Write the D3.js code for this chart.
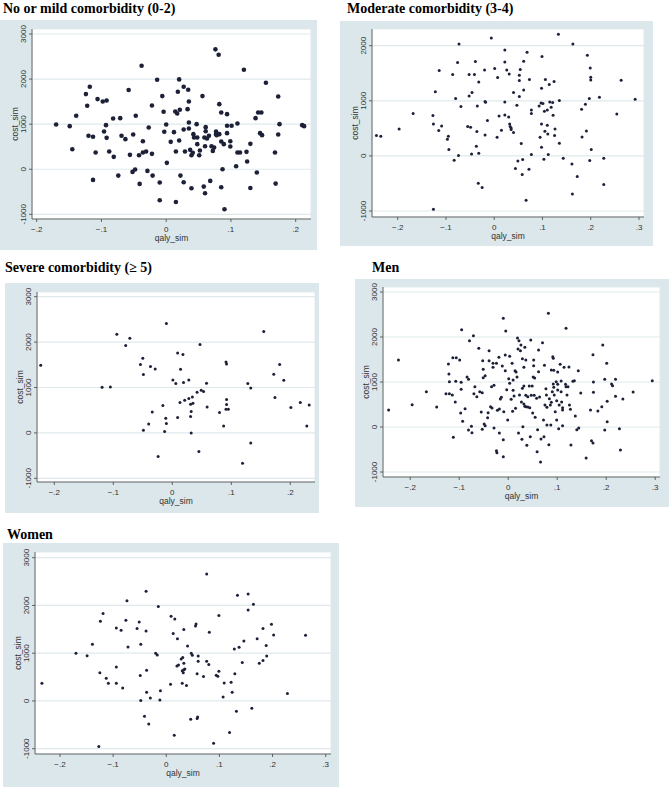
<!DOCTYPE html>
<html>
<head>
<meta charset="utf-8">
<script src="https://cdn.jsdelivr.net/npm/d3@7"></script>
<style>
  body { margin: 0; background: #fff; }
  svg text { font-family: "Liberation Sans", Arial, sans-serif; }
  .title { font-family: "Liberation Serif", "Times New Roman", serif !important; font-weight: bold; font-size: 14px; fill: #000; }
  .tick { font-size: 8px; fill: #333; }
  .axtitle { font-size: 8.5px; fill: #333; }
</style>
</head>
<body>
<svg id="chart" width="669" height="787"></svg>
<script>
// tick values
var yTicks = [-1000, 0, 1000, 2000, 3000];
var xTicks = [-0.2, -0.1, 0, 0.1, 0.2, 0.3];

// No or mild comorbidity (0-2)
var mildQaly = [-0.170,-0.149,-0.145,-0.139,-0.124,-0.122,-0.118,-0.120,-0.113,-0.113,-0.109,-0.106,-0.098,-0.092,-0.093,-0.096,-0.092,-0.088,-0.082,-0.081,
  -0.074,-0.071,-0.069,-0.063,-0.058,-0.056,-0.052,-0.051,-0.048,-0.047,-0.041,-0.042,-0.038,-0.036,-0.036,-0.031,-0.029,-0.027,-0.022,-0.022,
  -0.021,-0.014,-0.010,-0.010,-0.006,-0.004,-0.003,0.000,0.001,0.007,0.012,0.014,0.015,0.015,0.017,0.018,0.020,0.021,0.020,0.022,
  0.027,0.027,0.027,0.029,0.034,0.033,0.035,0.035,0.035,0.037,0.039,0.039,0.041,0.042,0.043,0.047,0.048,0.048,0.051,0.052,
  0.056,0.058,0.059,0.060,0.060,0.061,0.061,0.063,0.066,0.068,0.070,0.072,0.074,0.076,0.077,0.077,0.078,0.081,0.082,0.082,
  0.085,0.085,0.085,0.087,0.089,0.090,0.094,0.094,0.094,0.099,0.099,0.101,0.108,0.110,0.110,0.114,0.120,0.124,0.125,0.130,
  0.130,0.138,0.140,0.142,0.145,0.147,0.148,0.154,0.168,0.169,0.173,0.173,0.175,0.210,0.213];
var mildCost = [993,956,444,1185,1667,1407,1830,741,719,-237,370,1556,1504,1526,978,837,696,393,1126,274,
  -141,1133,741,667,1756,319,-59,770,-7,1185,-326,311,2296,622,370,393,-37,926,1415,341,
  -141,1985,-296,-689,1622,1274,830,993,141,607,822,1281,393,-726,1237,1719,1993,1319,637,-141,
  -289,881,1830,393,1763,1333,1504,904,1037,430,311,-422,363,778,704,1000,704,556,311,415,
  1622,-385,704,-533,511,933,844,681,741,-259,511,407,481,2659,778,837,756,2541,1444,778,
  1259,615,-400,0,556,-889,1222,963,800,622,504,963,67,1015,370,370,2207,385,170,563,
  -415,1133,-74,1259,800,1259,756,1919,370,-319,1615,770,1000,978,956];

// Moderate comorbidity (3-4)
var modQaly = [-0.244,-0.235,-0.197,-0.168,-0.127,-0.126,-0.126,-0.122,-0.115,-0.114,-0.109,-0.097,-0.095,-0.094,-0.083,-0.080,-0.086,-0.076,-0.074,-0.073,
  -0.069,-0.055,-0.052,-0.052,-0.049,-0.047,-0.046,-0.041,-0.039,-0.037,-0.036,-0.035,-0.033,-0.032,-0.032,-0.025,-0.020,-0.019,-0.018,-0.019,
  -0.014,-0.006,0.001,0.006,0.007,0.010,0.015,0.022,0.022,0.022,0.022,0.026,0.030,0.031,0.032,0.033,0.035,0.035,0.040,0.040,
  0.047,0.044,0.049,0.052,0.052,0.052,0.054,0.056,0.058,0.059,0.061,0.061,0.066,0.068,0.072,0.073,0.077,0.077,0.077,0.093,
  0.095,0.097,0.098,0.098,0.098,0.099,0.101,0.103,0.104,0.105,0.106,0.110,0.110,0.111,0.112,0.114,0.115,0.118,0.121,0.122,
  0.124,0.125,0.126,0.133,0.135,0.135,0.143,0.161,0.162,0.163,0.172,0.181,0.182,0.189,0.191,0.193,0.197,0.198,0.199,0.200,
  0.200,0.201,0.218,0.227,0.227,0.254,0.263,0.292];
var modCost = [369,357,490,768,732,581,-968,1162,460,1549,544,302,357,115,-79,1041,1476,1694,6,2033,
  895,532,1476,1089,520,36,1149,1476,1712,175,442,907,-496,48,1343,-575,1561,986,974,381,
  641,2142,1585,339,1422,726,466,1924,1706,980,744,1561,708,1488,581,532,508,478,424,1149,
  920,-230,-91,1077,1367,1464,1567,224,-339,-67,1198,1718,-805,1881,-242,1385,24,835,768,907,
  339,962,581,157,1228,1803,950,-60,811,448,1385,835,557,399,24,1295,980,883,968,738,
  1349,369,490,2208,230,1004,-42,-145,-690,2033,-375,847,345,938,454,1827,1041,-85,1597,1428,
  1379,115,1065,-42,-520,762,1373,1028];

// Severe comorbidity (>= 5)
var sevQaly = [-0.223,-0.119,-0.105,-0.094,-0.079,-0.072,-0.054,-0.050,-0.049,-0.049,-0.040,-0.037,-0.034,-0.029,-0.024,-0.016,-0.013,-0.011,-0.010,-0.010,
  0.001,0.006,0.009,0.009,0.013,0.014,0.018,0.019,0.021,0.028,0.028,0.031,0.031,0.032,0.032,0.034,0.035,0.042,0.045,0.047,
  0.049,0.053,0.058,0.059,0.080,0.087,0.091,0.091,0.092,0.092,0.092,0.095,0.119,0.128,0.133,0.133,0.155,0.172,0.174,0.182,
  0.189,0.201,0.217,0.228,0.232];
var sevCost = [1490,1006,1013,2172,1923,2084,1505,1644,1284,59,198,1461,462,1409,-521,602,29,323,206,2407,
  1167,1086,1761,338,668,1402,1725,1108,719,756,1167,360,631,470,0,793,653,895,-411,1945,
  939,910,1094,572,448,154,521,1563,1519,624,734,521,-668,1086,991,-220,2231,1292,778,1505,
  1160,558,668,154,616];

// Men
var menQaly = [-0.244,-0.224,-0.196,-0.167,-0.146,-0.122,-0.121,-0.120,-0.127,-0.120,-0.114,-0.113,-0.106,-0.107,-0.108,-0.112,-0.099,-0.096,-0.096,-0.095,
  -0.097,-0.093,-0.088,-0.084,-0.081,-0.081,-0.079,-0.075,-0.074,-0.071,-0.070,-0.068,-0.064,-0.060,-0.058,-0.055,-0.052,-0.051,-0.051,-0.053,
  -0.053,-0.049,-0.047,-0.047,-0.042,-0.041,-0.039,-0.039,-0.036,-0.034,-0.033,-0.031,-0.031,-0.029,-0.029,-0.024,-0.024,-0.023,-0.022,-0.019,
  -0.018,-0.018,-0.016,-0.014,-0.012,-0.010,-0.010,-0.010,-0.009,-0.006,-0.005,-0.006,-0.003,-0.001,0.001,0.003,0.003,0.006,0.008,0.009,
  0.010,0.010,0.012,0.014,0.015,0.016,0.018,0.019,0.020,0.021,0.022,0.023,0.025,0.026,0.027,0.028,0.029,0.029,0.030,0.032,
  0.032,0.032,0.034,0.034,0.036,0.036,0.036,0.038,0.040,0.040,0.043,0.044,0.045,0.046,0.047,0.049,0.050,0.051,0.052,0.052,
  0.054,0.053,0.055,0.058,0.059,0.060,0.062,0.062,0.064,0.066,0.067,0.070,0.073,0.072,0.074,0.075,0.077,0.078,0.079,0.079,
  0.082,0.083,0.084,0.086,0.087,0.088,0.088,0.090,0.091,0.092,0.092,0.093,0.093,0.094,0.096,0.098,0.099,0.099,0.101,0.101,
  0.101,0.103,0.104,0.106,0.108,0.108,0.109,0.111,0.111,0.111,0.114,0.117,0.118,0.118,0.120,0.122,0.124,0.125,0.127,0.128,
  0.132,0.135,0.137,0.140,0.144,0.143,0.148,0.168,0.170,0.173,0.173,0.174,0.174,0.159,0.183,0.191,0.193,0.197,0.197,0.201,
  0.202,0.202,0.211,0.213,0.219,0.219,0.227,0.229,0.234,0.255,0.294];
var menCost = [378,1489,496,785,444,1400,1178,1007,741,741,711,1541,1541,1015,556,-230,1489,837,993,2163,
  311,126,407,1111,1059,-67,1919,15,-126,2030,741,896,674,1748,785,333,1474,1281,1096,763,
  -52,67,30,1141,207,319,1696,1474,452,896,422,1326,1415,926,-22,1415,-526,-570,370,1548,
  400,-133,622,659,1356,-281,-659,2415,341,1252,2133,1600,830,156,1074,1570,970,615,1415,348,
  815,1044,689,1252,415,1222,1111,1978,1733,-133,1919,711,1696,1822,556,-274,859,1519,7,1326,
  911,511,1770,459,452,1489,704,-407,444,674,911,430,-215,1933,704,911,311,1111,1489,1363,
  1089,704,215,637,-548,-59,1711,1230,667,-778,-267,1874,-215,156,1370,489,852,711,44,437,
  2526,-393,630,489,44,1267,548,785,1563,1526,956,1259,881,711,341,1007,156,585,948,1222,
  822,-37,489,1393,1022,785,556,30,430,378,1326,948,2193,896,711,896,1333,489,393,-400,
  1015,1030,244,-59,-22,1252,756,378,-304,-356,1607,1000,770,-689,356,452,1822,1059,-67,1415,
  119,570,956,919,681,1059,-37,-511,622,778,1030];

// Women
var womenQaly = [-0.234,-0.170,-0.149,-0.139,-0.127,-0.125,-0.124,-0.119,-0.113,-0.109,-0.094,-0.094,-0.094,-0.085,-0.082,-0.076,-0.074,-0.072,-0.055,-0.051,
  -0.049,-0.048,-0.048,-0.041,-0.038,-0.038,-0.037,-0.037,-0.033,-0.030,-0.020,-0.017,-0.015,-0.011,-0.012,0.009,0.008,0.013,0.015,0.016,
  0.021,0.020,0.023,0.028,0.030,0.030,0.031,0.033,0.033,0.032,0.033,0.035,0.038,0.040,0.046,0.047,0.049,0.055,0.056,0.058,
  0.059,0.058,0.060,0.060,0.070,0.076,0.076,0.080,0.081,0.089,0.094,0.097,0.099,0.099,0.107,0.109,0.119,0.122,0.124,0.128,
  0.129,0.132,0.134,0.137,0.143,0.146,0.154,0.154,0.161,0.164,0.171,0.175,0.182,0.182,0.188,0.189,0.198,0.202,0.228,0.262];
var womenCost = [370,998,949,1187,-956,593,1668,1829,475,370,1529,712,370,1480,272,1689,2101,1131,1515,1654,
  531,7,1187,-321,2297,1466,642,182,-482,63,998,963,1976,216,21,1773,349,1410,-719,1717,
  1305,733,754,880,635,370,908,1494,789,593,656,670,321,1152,-384,998,956,1571,1613,-370,
  -335,572,942,831,510,2660,831,761,1438,-887,538,517,1787,621,84,377,-663,391,182,1089,
  572,-216,2213,1124,803,1257,2241,1906,-154,2024,1305,789,845,1515,1159,942,1606,1382,154,1375];

// panel layout: outer box, plot box, pixel positions of the first/last tick
var panels = [
  { title: "No or mild comorbidity (0-2)", qaly: mildQaly, cost: mildCost, r: 2.3,
    tx: 3, ty: 13, bg: [0, 20, 317, 250], plot: [32, 29, 311, 219],
    xt: [-0.2, 0.2], xr: [36.7, 295.7], yt: [-1000, 3000], yr: [214.3, 34] },
  { title: "Moderate comorbidity (3-4)", qaly: modQaly, cost: modCost, r: 1.5,
    tx: 347, ty: 13, bg: [340, 21, 653, 246], plot: [372, 29, 644, 217],
    xt: [-0.2, 0.3], xr: [397.7, 639], yt: [-1000, 2000], yr: [211, 45.7] },
  { title: "Severe comorbidity (\u2265 5)", qaly: sevQaly, cost: sevCost, r: 1.5,
    tx: 5, ty: 272, bg: [5, 283, 319, 513], plot: [37, 292, 315, 482],
    xt: [-0.2, 0.2], xr: [54.3, 290.3], yt: [-1000, 3000], yr: [478.3, 296.7] },
  { title: "Men", qaly: menQaly, cost: menCost, r: 1.5,
    tx: 372, ty: 272, bg: [355, 279, 669, 507], plot: [383, 287, 660, 477],
    xt: [-0.2, 0.3], xr: [410.2, 655.2], yt: [-1000, 3000], yr: [472, 292] },
  { title: "Women", qaly: womenQaly, cost: womenCost, r: 1.5,
    tx: 7, ty: 539, bg: [3, 543, 339, 787], plot: [35, 552, 331, 754],
    xt: [-0.2, 0.3], xr: [60, 325.7], yt: [-1000, 3000], yr: [748.7, 557.7] }
];

var bgColor = "#dbe7ea";
var gridColor = "#dfe9ec";
var axisColor = "#444";
var dotColor = "#1c2138";

function fmtX(t) {
  if (Math.abs(t) < 1e-9) return "0";
  return d3.format(".1f")(t).replace("0.", ".");
}

var svg = d3.select("#chart");

panels.forEach(function(p) {
  var g = svg.append("g");
  var x = d3.scaleLinear().domain(p.xt).range(p.xr);
  var y = d3.scaleLinear().domain(p.yt).range(p.yr);
  var xs = xTicks.filter(function(t) { return t >= p.xt[0] - 1e-9 && t <= p.xt[1] + 1e-9; });
  var ys = yTicks.filter(function(t) { return t >= p.yt[0] && t <= p.yt[1]; });
  var x0 = p.plot[0], y0 = p.plot[1], x1 = p.plot[2], y1 = p.plot[3];

  g.append("text").attr("class", "title").attr("x", p.tx).attr("y", p.ty).text(p.title);

  g.append("rect").attr("x", p.bg[0]).attr("y", p.bg[1])
    .attr("width", p.bg[2] - p.bg[0]).attr("height", p.bg[3] - p.bg[1]).attr("fill", bgColor);
  g.append("rect").attr("x", x0).attr("y", y0).attr("width", x1 - x0).attr("height", y1 - y0)
    .attr("fill", "#fff").attr("stroke", gridColor).attr("stroke-width", 1);

  // gridlines
  g.selectAll(".grid").data(ys).enter().append("line")
    .attr("x1", x0).attr("x2", x1)
    .attr("y1", function(d) { return y(d); }).attr("y2", function(d) { return y(d); })
    .attr("stroke", gridColor).attr("stroke-width", 1.2);

  // axes
  g.append("line").attr("x1", x0).attr("x2", x0).attr("y1", y0).attr("y2", y1)
    .attr("stroke", axisColor).attr("stroke-width", 0.8);
  g.append("line").attr("x1", x0).attr("x2", x1).attr("y1", y1).attr("y2", y1)
    .attr("stroke", axisColor).attr("stroke-width", 0.8);

  g.selectAll(".yt").data(ys).enter().append("line")
    .attr("x1", x0 - 3).attr("x2", x0)
    .attr("y1", function(d) { return y(d); }).attr("y2", function(d) { return y(d); })
    .attr("stroke", axisColor).attr("stroke-width", 0.8);
  g.selectAll(".ytl").data(ys).enter().append("text").attr("class", "tick")
    .attr("text-anchor", "middle").attr("dominant-baseline", "central")
    .attr("transform", function(d) { return "translate(" + (x0 - 8.5) + "," + y(d) + ") rotate(-90)"; })
    .text(function(d) { return d; });

  g.selectAll(".xt").data(xs).enter().append("line")
    .attr("x1", function(d) { return x(d); }).attr("x2", function(d) { return x(d); })
    .attr("y1", y1).attr("y2", y1 + 3)
    .attr("stroke", axisColor).attr("stroke-width", 0.8);
  g.selectAll(".xtl").data(xs).enter().append("text").attr("class", "tick")
    .attr("text-anchor", "middle")
    .attr("x", function(d) { return x(d); }).attr("y", y1 + 12.5)
    .text(fmtX);

  g.append("text").attr("class", "axtitle").attr("text-anchor", "middle").attr("dominant-baseline", "central")
    .attr("transform", "translate(" + (x0 - 17) + "," + ((y0 + y1) / 2) + ") rotate(-90)").text("cost_sim");
  g.append("text").attr("class", "axtitle").attr("text-anchor", "middle")
    .attr("x", (x0 + x1) / 2).attr("y", y1 + 22).text("qaly_sim");

  var pts = d3.zip(p.qaly, p.cost);
  g.selectAll(".dot").data(pts).enter().append("circle")
    .attr("cx", function(d) { return x(d[0]); })
    .attr("cy", function(d) { return y(d[1]); })
    .attr("r", p.r).attr("fill", dotColor);
});
</script>
</body>
</html>
